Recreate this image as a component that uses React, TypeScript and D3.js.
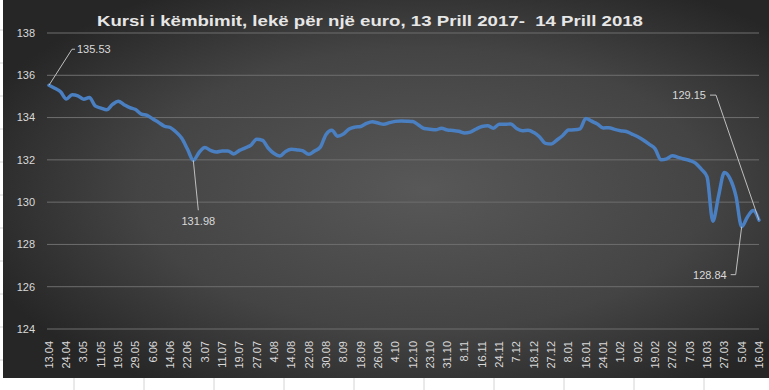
import React from 'react';
import * as d3 from 'd3';

const title = 'Kursi i këmbimit, lekë për një euro, 13 Prill 2017-  14 Prill 2018';

// category labels shown on the axis (every 3rd point)
const dateLabels = [
  '13.04', '24.04', '3.05', '11.05', '19.05', '29.05', '6.06', '14.06', '22.06', '3.07',
  '11.07', '19.07', '27.07', '4.08', '14.08', '22.08', '30.08', '8.09', '18.09', '26.09',
  '4.10', '12.10', '23.10', '31.10', '8.11', '16.11', '24.11', '7.12', '18.12', '27.12',
  '8.01', '16.01', '24.01', '1.02', '9.02', '19.02', '27.02', '7.03', '16.03', '27.03',
  '5.04', '16.04',
];
const labelStep = 3;

// lek per euro
const rates = [
  135.53, 135.39, 135.22, 134.88, 135.08, 135.03, 134.87, 134.95, 134.55, 134.45,
  134.37, 134.62, 134.77, 134.61, 134.47, 134.38, 134.16, 134.10, 133.93, 133.77,
  133.59, 133.53, 133.32, 133.02, 132.50, 131.98, 132.35, 132.58, 132.45, 132.37,
  132.42, 132.42, 132.28, 132.45, 132.57, 132.70, 132.98, 132.92, 132.55, 132.30,
  132.18, 132.40, 132.50, 132.47, 132.42, 132.26, 132.42, 132.60, 133.20, 133.40,
  133.12, 133.22, 133.46, 133.55, 133.58, 133.72, 133.80, 133.74, 133.68, 133.76,
  133.82, 133.84, 133.83, 133.81, 133.65, 133.48, 133.45, 133.42, 133.50, 133.41,
  133.39, 133.35, 133.27, 133.31, 133.46, 133.58, 133.61, 133.50, 133.69, 133.68,
  133.70, 133.48, 133.38, 133.40, 133.29, 133.08, 132.78, 132.75, 132.94, 133.15,
  133.41, 133.42, 133.47, 133.96, 133.83, 133.70, 133.51, 133.52, 133.44, 133.38,
  133.34, 133.22, 133.09, 132.93, 132.73, 132.52, 132.00, 132.05, 132.20, 132.12,
  132.04, 131.97, 131.85, 131.56, 131.20, 129.10, 130.30, 131.40, 131.10, 130.30,
  128.84, 129.30, 129.60, 129.15,
];

const yTicks = [124, 126, 128, 130, 132, 134, 136, 138];

// which points carry a callout, and where the callout text sits
const callouts = [
  { index: 0, elbow: [23, -36], stub: 3, anchor: 'start' },
  { index: 25, elbow: [5, 50], stub: 0, anchor: 'middle' },
  { index: 120, elbow: [-6, 48], stub: -5, anchor: 'end' },
  { index: 123, elbow: [-43, -125], stub: -6, anchor: 'end' },
];

const W = 769;
const H = 390;
const font = '"Liberation Sans", Arial, sans-serif';
const textColor = '#d9d9d9';

export default function App() {
  const x = d3.scaleLinear().domain([0, rates.length - 1]).range([49, 759]);
  const y = d3.scaleLinear().domain([124, 138]).range([329, 33]);

  const line = d3
    .line<number>()
    .x((_, i) => x(i))
    .y((d) => y(d))
    .curve(d3.curveMonotoneX);

  const sheetCols = d3.range(74, W, 70);
  const sheetRows = d3.range(30, H, 33);

  return (
    <svg width={W} height={H} style={{ position: 'absolute', left: 0, top: 0, display: 'block' }}>
      <defs>
        <radialGradient id="bg" cx="55%" cy="50%" r="62%">
          <stop offset="0%" stopColor="#585858" />
          <stop offset="60%" stopColor="#444444" />
          <stop offset="100%" stopColor="#262626" />
        </radialGradient>
      </defs>
      <rect width={W} height={H} fill="#ffffff" />
      {sheetRows.map((r) => (
        <line key={'r' + r} x1={0} x2={3} y1={r} y2={r} stroke="#d4d4d4" />
      ))}
      {sheetCols.map((c) => (
        <line key={'c' + c} x1={c} x2={c} y1={378} y2={H} stroke="#d4d4d4" />
      ))}
      <rect x={3} y={0} width={W - 3} height={378} fill="url(#bg)" />

      <text
        x={97}
        y={26}
        fill="#e6e6e6"
        fontFamily={font}
        fontWeight="bold"
        fontSize={15}
        textLength={546}
        lengthAdjust="spacingAndGlyphs"
        style={{ whiteSpace: 'pre' }}
      >
        {title}
      </text>

      {yTicks.map((t) => (
        <g key={t}>
          <line x1={47} x2={759} y1={y(t)} y2={y(t)} stroke="#6e6e6e" strokeWidth={1} />
          <text x={35} y={y(t)} dy="0.35em" textAnchor="end" fill={textColor} fontFamily={font} fontSize={11}>
            {t}
          </text>
        </g>
      ))}

      {dateLabels.map((lab, k) => (
        <text
          key={lab + k}
          transform={`translate(${x(k * labelStep)},341) rotate(-90)`}
          dy="0.35em"
          textAnchor="end"
          fill={textColor}
          fontFamily={font}
          fontSize={11}
        >
          {lab}
        </text>
      ))}

      <path d={line(rates) ?? ''} fill="none" stroke="#4a7fc1" strokeWidth={3.5} strokeLinejoin="round" strokeLinecap="round" />

      {callouts.map((c) => {
        const px = x(c.index);
        const py = y(rates[c.index]);
        const ex = px + c.elbow[0];
        const ey = py + c.elbow[1];
        const sx = ex + c.stub;
        const tx = c.anchor === 'start' ? sx + 2 : c.anchor === 'end' ? sx - 4 : sx;
        const ty = c.anchor === 'middle' ? ey + 11 : ey;
        return (
          <g key={c.index}>
            <polyline points={`${px},${py} ${ex},${ey} ${sx},${ey}`} fill="none" stroke="#bfbfbf" strokeWidth={1} />
            <text x={tx} y={ty} dy="0.35em" textAnchor={c.anchor} fill={textColor} fontFamily={font} fontSize={11}>
              {rates[c.index].toFixed(2)}
            </text>
          </g>
        );
      })}
    </svg>
  );
}
